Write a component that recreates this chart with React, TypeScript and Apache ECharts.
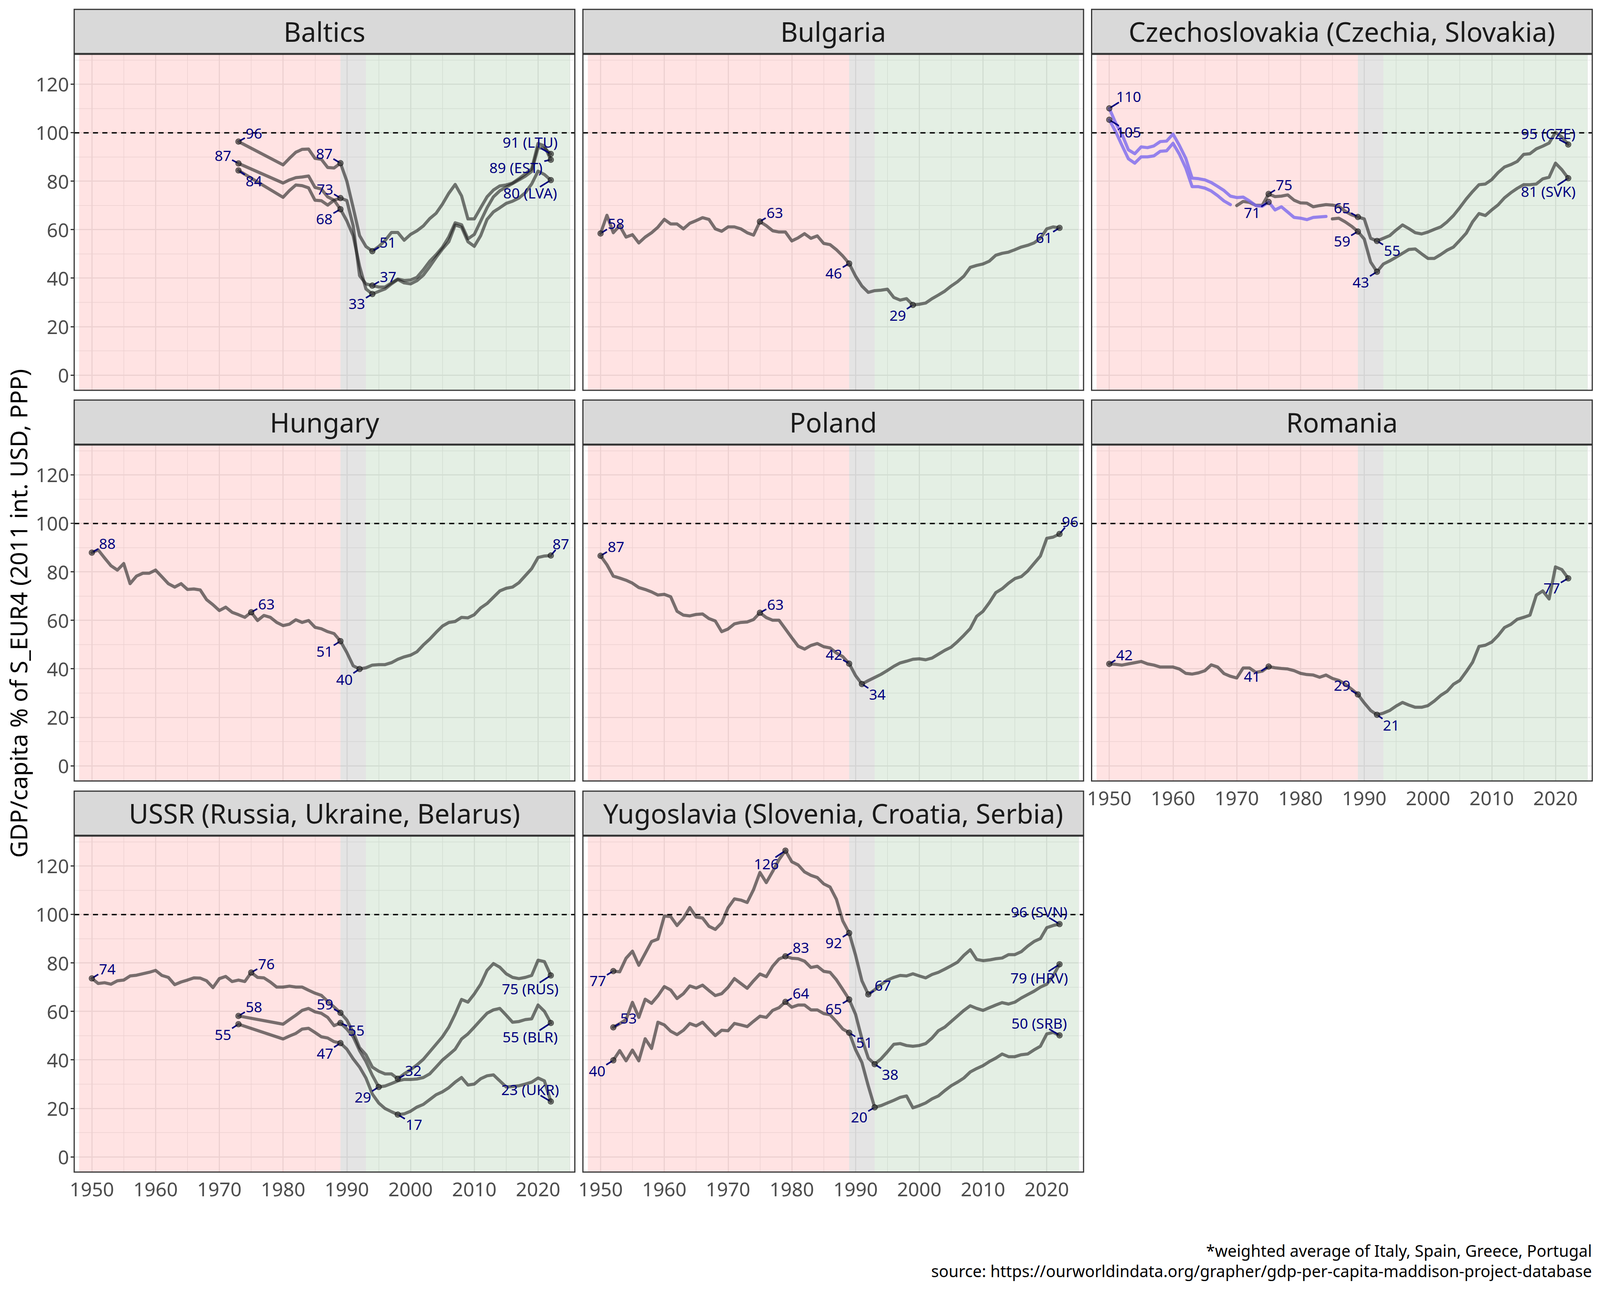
import React, { useEffect, useRef } from 'react';
import * as echarts from 'echarts';

// ----------------------------- DATA -----------------------------
const span = (a: number, b: number): number[] => {
  const r: number[] = [];
  for (let y = a; y <= b; y++) r.push(y);
  return r;
};

const YEARS_FULL = span(1950, 2022);
const YEARS_REP = [1973, ...span(1980, 2022)];
const YEARS_YUGO = span(1952, 2022);
const YEARS_CZE_EARLY = span(1950, 1969);
const YEARS_CZE_LATE = span(1970, 2022);
const YEARS_SVK_EARLY = span(1950, 1984);
const YEARS_SVK_LATE = span(1985, 2022);

const X_TICKS = [1950, 1960, 1970, 1980, 1990, 2000, 2010, 2020];
const Y_TICKS = [0, 20, 40, 60, 80, 100, 120];

const EST = [96.3, 86.7, 89.4, 91.9, 93.1, 93.2, 89.4, 89.0, 85.6, 85.4, 87.4, 80.0, 69.0, 57.5, 53.0, 51.1, 53.0, 55.5, 58.8, 58.8, 55.6, 58.0, 59.5, 61.5, 64.5, 66.7, 70.5, 75.0, 78.6, 73.9, 64.4, 64.4, 69.0, 73.5, 76.3, 78.0, 78.4, 79.2, 81.0, 83.0, 85.0, 95.5, 94.5, 88.8];
const LTU = [87.3, 79.2, 80.5, 81.4, 81.7, 82.1, 77.4, 76.7, 73.5, 72.1, 73.0, 72.0, 61.5, 41.0, 37.6, 36.9, 36.3, 36.3, 38.0, 39.6, 39.0, 39.2, 40.3, 43.4, 46.9, 49.6, 52.7, 57.0, 62.8, 62.0, 56.2, 58.0, 63.5, 69.0, 73.5, 76.0, 77.5, 79.0, 80.5, 82.0, 84.0, 93.8, 93.5, 91.2];
const LVA = [84.4, 73.3, 76.1, 78.4, 78.1, 77.2, 72.1, 71.9, 70.1, 72.1, 68.4, 63.6, 57.4, 44.9, 35.5, 33.4, 34.5, 35.5, 37.6, 39.4, 38.0, 37.6, 38.9, 41.2, 44.7, 48.5, 52.0, 55.0, 61.9, 61.0, 55.0, 53.1, 57.5, 64.2, 67.3, 69.0, 70.8, 71.7, 73.0, 75.2, 78.8, 84.1, 82.7, 80.4];

const BGR = [58.4, 65.9, 58.7, 61.6, 56.9, 57.9, 54.5, 56.9, 58.7, 61.0, 64.2, 62.3, 62.3, 60.3, 62.6, 63.7, 64.9, 64.2, 60.3, 59.3, 61.1, 61.1, 60.3, 58.7, 57.7, 63.3, 61.6, 59.5, 59.0, 59.0, 55.3, 56.6, 58.3, 56.4, 57.4, 54.3, 53.8, 51.7, 49.1, 46.0, 40.8, 36.7, 34.1, 34.8, 35.0, 35.4, 32.0, 30.9, 31.5, 28.9, 29.2, 29.7, 31.5, 33.0, 34.6, 36.7, 38.5, 40.8, 44.4, 45.2, 45.8, 47.0, 49.4, 50.2, 50.7, 51.7, 52.8, 53.5, 54.5, 56.4, 60.3, 61.1, 60.7];

const CZE_EARLY = [105.3, 100.4, 94.7, 89.2, 87.4, 90.0, 90.0, 90.4, 92.3, 92.5, 95.6, 91.1, 85.4, 77.7, 77.7, 77.1, 75.9, 74.0, 71.8, 70.3];
const CZE_LATE = [69.9, 71.6, 71.2, 70.0, 70.0, 74.7, 73.6, 73.8, 74.3, 72.1, 71.0, 70.9, 69.4, 69.9, 70.3, 70.1, 69.6, 67.6, 66.1, 65.2, 64.4, 56.4, 55.3, 56.4, 57.5, 59.8, 61.9, 60.4, 58.7, 58.2, 59.0, 60.1, 61.1, 63.2, 65.8, 69.1, 72.6, 75.7, 78.5, 78.8, 80.6, 83.5, 85.8, 86.8, 88.1, 91.0, 91.3, 93.3, 94.4, 95.7, 100.1, 98.2, 95.1];
const SVK_EARLY = [110.0, 104.0, 99.3, 92.9, 91.3, 94.1, 93.8, 94.5, 96.3, 96.5, 99.4, 94.7, 89.4, 81.2, 81.0, 80.5, 79.4, 77.8, 76.1, 73.8, 73.2, 73.4, 71.8, 69.9, 69.6, 71.4, 68.1, 69.4, 67.2, 65.0, 64.7, 64.1, 65.0, 65.2, 65.4];
const SVK_LATE = [64.4, 64.7, 63.2, 61.4, 59.2, 56.1, 46.6, 42.6, 45.8, 47.1, 48.6, 50.2, 51.8, 52.0, 50.0, 48.1, 48.1, 49.7, 51.5, 52.8, 55.6, 58.5, 63.2, 66.6, 65.8, 68.1, 70.2, 73.1, 75.2, 77.0, 78.5, 78.5, 78.8, 80.9, 81.6, 87.4, 84.7, 81.2];

const HUN = [87.9, 89.0, 85.7, 82.5, 80.7, 83.4, 75.1, 78.2, 79.4, 79.4, 80.7, 77.9, 75.1, 73.7, 75.1, 72.7, 72.9, 72.5, 68.5, 66.4, 64.0, 65.4, 63.3, 62.3, 61.2, 63.3, 59.9, 62.0, 61.2, 59.1, 57.8, 58.4, 60.2, 59.1, 59.9, 57.1, 56.5, 55.3, 54.5, 51.4, 46.7, 41.2, 39.9, 40.4, 41.5, 41.7, 41.7, 42.5, 43.9, 44.9, 45.6, 47.0, 49.8, 52.2, 55.0, 57.6, 59.1, 59.5, 61.2, 61.0, 62.3, 65.1, 66.9, 69.5, 72.1, 73.2, 73.7, 75.5, 78.4, 81.3, 85.9, 86.5, 86.7];
const POL = [86.6, 82.9, 78.2, 77.4, 76.5, 75.3, 73.5, 72.7, 71.7, 70.4, 70.7, 69.7, 63.7, 62.1, 61.8, 62.4, 62.6, 60.7, 59.7, 55.3, 56.4, 58.5, 59.1, 59.3, 60.3, 63.1, 61.1, 60.0, 60.0, 56.4, 52.8, 49.3, 48.1, 49.6, 50.4, 49.1, 48.6, 46.5, 45.0, 42.1, 37.2, 33.7, 35.1, 36.4, 37.7, 39.3, 41.0, 42.4, 43.1, 43.9, 44.1, 43.7, 44.4, 46.0, 47.6, 48.9, 51.2, 53.8, 56.6, 61.6, 63.7, 67.3, 71.4, 73.0, 75.3, 77.2, 78.0, 80.3, 83.4, 86.5, 93.8, 94.3, 95.6];
const ROU = [42.0, 41.8, 41.5, 42.0, 42.5, 43.0, 42.0, 41.5, 40.7, 40.7, 40.7, 39.9, 38.1, 37.8, 38.3, 39.2, 41.6, 40.7, 38.0, 36.9, 36.2, 40.3, 40.3, 38.5, 39.0, 40.9, 40.4, 40.1, 39.9, 39.2, 38.1, 37.6, 37.4, 36.5, 37.4, 36.0, 35.2, 33.7, 31.6, 29.4, 25.9, 22.8, 21.0, 21.7, 22.8, 24.6, 26.1, 25.0, 24.1, 24.1, 24.8, 26.7, 29.0, 30.7, 33.6, 35.2, 38.8, 42.7, 49.2, 49.7, 51.0, 53.7, 57.0, 58.3, 60.4, 61.2, 62.1, 70.4, 72.1, 68.8, 82.0, 80.9, 77.3];

const RUS = [73.6, 71.5, 71.8, 71.2, 72.6, 72.9, 74.6, 74.9, 75.5, 76.1, 76.9, 74.8, 74.0, 71.0, 72.1, 72.9, 73.8, 73.7, 72.6, 69.8, 73.5, 74.4, 72.3, 72.9, 72.3, 76.0, 74.0, 73.8, 72.1, 70.0, 70.0, 70.4, 70.0, 70.0, 68.7, 67.5, 66.6, 64.1, 61.8, 59.4, 56.4, 51.3, 45.0, 42.1, 37.0, 35.3, 34.2, 34.2, 32.2, 34.2, 35.9, 37.9, 40.2, 43.3, 46.4, 49.5, 53.5, 58.9, 64.9, 63.8, 67.2, 71.2, 76.9, 79.7, 78.2, 75.5, 74.0, 73.5, 74.0, 74.8, 81.1, 80.5, 74.8];
const BLR = [58.1, 54.7, 56.6, 58.4, 60.4, 61.2, 59.8, 59.2, 57.5, 54.1, 55.2, 52.7, 49.5, 43.8, 39.3, 33.6, 28.8, 29.2, 30.2, 31.3, 31.9, 31.9, 32.1, 32.7, 34.2, 37.0, 39.9, 42.1, 44.4, 48.6, 50.7, 53.5, 56.4, 59.2, 60.6, 61.2, 58.4, 55.5, 55.8, 56.6, 56.9, 62.6, 60.0, 55.2];
const UKR = [54.7, 48.6, 49.8, 50.9, 52.7, 53.0, 51.3, 49.5, 49.0, 47.5, 46.9, 44.4, 40.4, 37.0, 32.5, 25.9, 22.2, 19.9, 18.6, 17.4, 17.7, 18.8, 20.5, 21.6, 23.6, 25.6, 26.8, 28.5, 30.8, 32.7, 29.6, 30.0, 32.2, 33.4, 33.8, 31.3, 28.8, 29.0, 29.3, 30.0, 30.8, 32.5, 31.3, 22.8];

const SVN = [76.6, 76.3, 81.9, 84.8, 79.0, 83.9, 88.8, 89.8, 99.3, 99.1, 95.4, 98.4, 102.8, 98.9, 98.5, 95.1, 93.8, 96.5, 102.7, 106.4, 105.9, 104.9, 110.2, 117.3, 113.1, 117.7, 122.6, 126.3, 121.7, 120.4, 117.5, 116.1, 115.2, 112.6, 111.3, 106.2, 97.3, 92.3, 83.2, 72.6, 67.0, 68.9, 71.0, 72.9, 74.0, 74.8, 74.6, 75.5, 74.6, 73.8, 75.2, 76.1, 77.4, 78.8, 80.3, 83.1, 85.4, 81.4, 80.9, 81.2, 81.7, 82.0, 83.4, 83.4, 84.6, 86.9, 88.8, 90.0, 94.5, 95.4, 96.0];
const HRV = [53.4, 54.9, 56.6, 63.7, 57.5, 65.0, 63.3, 66.4, 70.2, 68.8, 65.3, 67.3, 70.5, 69.6, 70.8, 68.6, 66.5, 67.3, 69.9, 73.5, 71.5, 69.5, 72.6, 75.4, 74.3, 78.6, 81.6, 82.7, 81.9, 81.7, 80.7, 78.1, 78.6, 76.5, 76.1, 73.0, 69.0, 64.9, 58.8, 48.7, 40.7, 38.2, 40.4, 43.3, 46.4, 46.7, 45.9, 45.6, 45.9, 46.7, 49.0, 52.0, 53.5, 55.8, 58.1, 60.4, 62.3, 61.2, 60.4, 61.5, 62.6, 63.6, 63.0, 63.8, 65.5, 66.9, 68.3, 70.0, 71.2, 74.6, 79.4];
const SRB = [39.8, 43.8, 39.6, 44.0, 39.6, 48.7, 44.7, 55.5, 54.4, 51.8, 50.4, 52.2, 55.0, 54.0, 55.5, 52.7, 50.0, 52.2, 52.0, 55.0, 54.4, 53.7, 55.9, 58.0, 57.5, 60.4, 61.5, 63.9, 61.7, 62.6, 62.6, 60.6, 60.6, 59.1, 58.6, 55.8, 52.7, 51.2, 44.2, 38.9, 29.2, 20.4, 21.1, 22.2, 23.3, 24.5, 25.1, 20.2, 21.1, 22.2, 23.9, 25.1, 27.3, 29.3, 30.8, 32.5, 35.0, 36.4, 37.6, 39.3, 40.7, 42.4, 41.3, 41.3, 42.1, 42.4, 44.1, 45.6, 50.7, 51.3, 50.1];

// labelled points: [series, year, suffix]
const LABELS_BALTICS = [['EST', 1973, ''], ['LTU', 1973, ''], ['LVA', 1973, ''], ['EST', 1989, ''], ['LTU', 1989, ''], ['LVA', 1989, ''], ['EST', 1994, ''], ['LTU', 1994, ''], ['LVA', 1994, ''], ['LTU', 2022, ' (LTU)'], ['EST', 2022, ' (EST)'], ['LVA', 2022, ' (LVA)']];
const LABELS_BULGARIA = [['BGR', 1950, ''], ['BGR', 1975, ''], ['BGR', 1989, ''], ['BGR', 1999, ''], ['BGR', 2022, '']];
const LABELS_CZECHO = [['SVK', 1950, ''], ['CZE', 1950, ''], ['CZE', 1975, ''], ['SVK', 1975, ''], ['CZE', 1989, ''], ['SVK', 1989, ''], ['CZE', 1992, ''], ['SVK', 1992, ''], ['CZE', 2022, ' (CZE)'], ['SVK', 2022, ' (SVK)']];
const LABELS_HUNGARY = [['HUN', 1950, ''], ['HUN', 1975, ''], ['HUN', 1989, ''], ['HUN', 1992, ''], ['HUN', 2022, '']];
const LABELS_POLAND = [['POL', 1950, ''], ['POL', 1975, ''], ['POL', 1989, ''], ['POL', 1991, ''], ['POL', 2022, '']];
const LABELS_ROMANIA = [['ROU', 1950, ''], ['ROU', 1975, ''], ['ROU', 1989, ''], ['ROU', 1992, ''], ['ROU', 2022, '']];
const LABELS_USSR = [['RUS', 1950, ''], ['RUS', 1975, ''], ['BLR', 1973, ''], ['UKR', 1973, ''], ['RUS', 1989, ''], ['BLR', 1989, ''], ['UKR', 1989, ''], ['BLR', 1995, ''], ['RUS', 1998, ''], ['UKR', 1998, ''], ['RUS', 2022, ' (RUS)'], ['BLR', 2022, ' (BLR)'], ['UKR', 2022, ' (UKR)']];
const LABELS_YUGO = [['SVN', 1952, ''], ['HRV', 1952, ''], ['SRB', 1952, ''], ['SVN', 1979, ''], ['HRV', 1979, ''], ['SRB', 1979, ''], ['SVN', 1989, ''], ['HRV', 1989, ''], ['SRB', 1989, ''], ['SVN', 1992, ''], ['HRV', 1993, ''], ['SRB', 1993, ''], ['SVN', 2022, ' (SVN)'], ['HRV', 2022, ' (HRV)'], ['SRB', 2022, ' (SRB)']];

// ----------------------------- LAYOUT -----------------------------
// label centre offsets (reference px) from their point, same order as the labels above
const OFF_BALTICS = [[48, -24], [-48, -23], [48, 29], [-50, -27], [-48, -26], [-50, 26], [48, -26], [49, -26], [-48, 26], [-64, -33], [-108, 21], [-64, 36]];
const OFF_BULGARIA = [[48, -28], [46, -26], [-48, 26], [-47, 28], [-48, 27]];
const OFF_CZECHO = [[60, -34], [60, 34], [48, -26], [-51, 29], [-49, -26], [-49, 26], [47, 26], [-50, 28], [-62, -31], [-62, 37]];
const OFF_HUNGARY = [[48, -26], [47, -24], [-49, 28], [-47, 29], [31, -33]];
const OFF_POLAND = [[48, -26], [48, -24], [-47, -26], [48, 28], [33, -35]];
const OFF_ROMANIA = [[47, -26], [-51, 27], [-49, -26], [44, 28], [-51, 27]];
const OFF_USSR = [[48, -27], [47, -25], [48, -26], [-48, 28], [-48, -25], [49, 20], [-48, 28], [-49, 28], [48, -24], [50, 27], [-64, 37], [-64, 38], [-64, -34]];
const OFF_YUGO = [[-48, 26], [47, -26], [-50, 29], [-59, 36], [48, -26], [48, -25], [-48, 27], [-48, 26], [47, 27], [45, -26], [48, 28], [-48, 26], [-63, -35], [-63, 37], [-63, -35]];

// reference frame (4960 x 3307); mapped onto the real window at run time
const W = 4960;
const H = 3307;
const COL_X = [230, 1807, 3384];
const ROW_Y = [139, 1139, 2140];
const GW = 1552;
const GH = 860;
const STRIP_H = 115;
const X_MIN = 1947.23;
const X_MAX = 2025.77;
const Y_MIN = -6.3;
const Y_MAX = 132.3;
const FONT = '"Noto Sans", "Open Sans", sans-serif';
const LINE_GREY = 'rgba(30,30,30,0.6)';
const LINE_PURPLE = 'rgba(123,104,238,0.8)';

type Seg = { years: number[]; values: number[]; color: string };
type Ser = { key: string; segs: Seg[] };
type Panel = { title: string; series: Ser[]; labels: any[]; offsets: number[][] };

const one = (key: string, years: number[], values: number[]): Ser => ({ key, segs: [{ years, values, color: LINE_GREY }] });

const PANELS: Panel[] = [
  { title: 'Baltics', series: [one('EST', YEARS_REP, EST), one('LTU', YEARS_REP, LTU), one('LVA', YEARS_REP, LVA)], labels: LABELS_BALTICS, offsets: OFF_BALTICS },
  { title: 'Bulgaria', series: [one('BGR', YEARS_FULL, BGR)], labels: LABELS_BULGARIA, offsets: OFF_BULGARIA },
  {
    title: 'Czechoslovakia (Czechia, Slovakia)',
    series: [
      { key: 'CZE', segs: [{ years: YEARS_CZE_EARLY, values: CZE_EARLY, color: LINE_PURPLE }, { years: YEARS_CZE_LATE, values: CZE_LATE, color: LINE_GREY }] },
      { key: 'SVK', segs: [{ years: YEARS_SVK_EARLY, values: SVK_EARLY, color: LINE_PURPLE }, { years: YEARS_SVK_LATE, values: SVK_LATE, color: LINE_GREY }] },
    ],
    labels: LABELS_CZECHO,
    offsets: OFF_CZECHO,
  },
  { title: 'Hungary', series: [one('HUN', YEARS_FULL, HUN)], labels: LABELS_HUNGARY, offsets: OFF_HUNGARY },
  { title: 'Poland', series: [one('POL', YEARS_FULL, POL)], labels: LABELS_POLAND, offsets: OFF_POLAND },
  { title: 'Romania', series: [one('ROU', YEARS_FULL, ROU)], labels: LABELS_ROMANIA, offsets: OFF_ROMANIA },
  { title: 'USSR (Russia, Ukraine, Belarus)', series: [one('RUS', YEARS_FULL, RUS), one('BLR', YEARS_REP, BLR), one('UKR', YEARS_REP, UKR)], labels: LABELS_USSR, offsets: OFF_USSR },
  { title: 'Yugoslavia (Slovenia, Croatia, Serbia)', series: [one('SVN', YEARS_YUGO, SVN), one('HRV', YEARS_YUGO, HRV), one('SRB', YEARS_YUGO, SRB)], labels: LABELS_YUGO, offsets: OFF_YUGO },
];

function lookup(p: Panel, key: string, year: number): number {
  const s = p.series.find((x) => x.key === key)!;
  for (const seg of s.segs) {
    const i = seg.years.indexOf(year);
    if (i >= 0) return seg.values[i];
  }
  return NaN;
}

function textW(s: string, fs: number): number {
  let w = 0;
  for (const ch of s) {
    if (ch >= '0' && ch <= '9') w += 0.572;
    else if (ch === ' ') w += 0.26;
    else if (ch === '(' || ch === ')') w += 0.3;
    else w += 0.64;
  }
  return w * fs;
}

function buildOption(kx: number, ky: number) {
  const fs = Math.min(kx, ky);
  const labelFs = 45 * fs;
  const tickFs = 58 * Math.min(1, fs * 1.04);
  const stripFs = 80 * Math.min(1, fs * 1.04);
  const titleFs = 70 * Math.min(1, ky * 0.86);
  const dyK = ky * (0.5 + 0.5 * fs);
  const grid: any[] = [];
  const xAxis: any[] = [];
  const yAxis: any[] = [];
  const series: any[] = [];
  const graphic: any[] = [];

  PANELS.forEach((p, i) => {
    const col = i % 3;
    const row = Math.floor(i / 3);
    const left = COL_X[col] * kx;
    const top = ROW_Y[row] * ky;
    const gw = GW * kx;
    const gh = GH * ky;
    const stripH = STRIP_H * ky;
    const showX = row === 2 || (row === 1 && col === 2);
    const showY = col === 0;
    grid.push({ left, top, width: gw, height: gh, show: false, containLabel: false });
    xAxis.push({
      type: 'value', gridIndex: i, min: X_MIN, max: X_MAX,
      axisLine: { show: false }, splitLine: { show: false },
      axisTick: { show: showX, length: 11 * ky, lineStyle: { color: '#333333', width: 3 }, customValues: X_TICKS },
      axisLabel: { show: showX, customValues: X_TICKS, fontSize: tickFs, color: '#4D4D4D', fontFamily: FONT, margin: 18 * ky, formatter: (v: number) => String(v) },
    });
    yAxis.push({
      type: 'value', gridIndex: i, min: Y_MIN, max: Y_MAX,
      axisLine: { show: false }, splitLine: { show: false },
      axisTick: { show: showY, length: 11 * kx, lineStyle: { color: '#333333', width: 3 }, customValues: Y_TICKS },
      axisLabel: { show: showY, customValues: Y_TICKS, fontSize: tickFs, color: '#4D4D4D', fontFamily: FONT, margin: 16 * kx, formatter: (v: number) => String(v) },
    });

    const gridLines: any[] = [];
    for (let x = 1950; x <= 2025; x += 5) gridLines.push({ xAxis: x, lineStyle: { width: x % 10 === 0 ? 3 : 1.5 } });
    for (let y = 0; y <= 130; y += 10) gridLines.push({ yAxis: y, lineStyle: { width: y % 20 === 0 ? 3 : 1.5 } });
    const dummy = { type: 'line', xAxisIndex: i, yAxisIndex: i, data: [[X_MIN, Y_MIN]], showSymbol: false, silent: true, lineStyle: { opacity: 0 } };
    series.push({
      ...dummy,
      markLine: { silent: true, z: 1, symbol: ['none', 'none'], label: { show: false }, lineStyle: { color: '#EBEBEB', type: 'solid' }, data: gridLines },
    });
    series.push({
      ...dummy,
      markArea: {
        silent: true, z: 2, label: { show: false },
        data: [
          [{ xAxis: 1948, itemStyle: { color: 'rgba(255,0,0,0.11)' } }, { xAxis: 1989 }],
          [{ xAxis: 1989, itemStyle: { color: 'rgba(128,128,128,0.21)' } }, { xAxis: 1993 }],
          [{ xAxis: 1993, itemStyle: { color: 'rgba(0,100,0,0.105)' } }, { xAxis: 2025 }],
        ],
      },
    });
    p.series.forEach((s) => {
      s.segs.forEach((seg) => {
        series.push({
          type: 'line', xAxisIndex: i, yAxisIndex: i, z: 3, silent: true, showSymbol: false,
          data: seg.years.map((y, k) => [y, seg.values[k]]),
          lineStyle: { color: seg.color, width: 8, cap: 'round', join: 'round' },
        });
      });
    });
    series.push({
      ...dummy,
      markLine: { silent: true, z: 4, symbol: ['none', 'none'], label: { show: false }, lineStyle: { color: '#000000', width: 3.5, type: [13, 11] }, data: [{ yAxis: 100 }] },
    });

    const items = p.labels.map((l: any, k: number) => {
      const v = lookup(p, l[0], l[1]);
      return { year: l[1], value: v, text: `${Math.round(v)}${l[2]}`, dx: p.offsets[k][0] * kx, dy: p.offsets[k][1] * dyK };
    });
    series.push({
      type: 'custom', xAxisIndex: i, yAxisIndex: i, z: 5, silent: true, clip: false,
      data: items.map((it) => [it.year, it.value]),
      renderItem: (params: any, api: any) => {
        const it = items[params.dataIndex];
        const pt = api.coord([it.year, it.value]);
        const cx = pt[0] + it.dx;
        const cy = pt[1] + it.dy;
        const hw = textW(it.text, labelFs) / 2 + 2;
        const hh = labelFs * 0.42;
        const vx = pt[0] - cx;
        const vy = pt[1] - cy;
        const s = Math.min(hw / Math.max(Math.abs(vx), 1e-6), hh / Math.max(Math.abs(vy), 1e-6));
        const ex = cx + vx * s;
        const ey = cy + vy * s;
        const len = Math.hypot(ex - pt[0], ey - pt[1]);
        const children: any[] = [];
        if (s < 1 && len > 7) {
          const r0 = 3;
          children.push({
            type: 'line',
            shape: { x1: pt[0] + ((ex - pt[0]) / len) * r0, y1: pt[1] + ((ey - pt[1]) / len) * r0, x2: ex, y2: ey },
            style: { stroke: '#000080', lineWidth: 4 },
          });
        }
        children.push({ type: 'circle', shape: { cx: pt[0], cy: pt[1], r: 7 }, style: { fill: 'rgba(40,40,40,0.55)', stroke: 'rgba(0,0,0,0.55)', lineWidth: 2 } });
        children.push({
          type: 'text',
          style: { text: it.text, x: cx, y: cy, fill: '#000080', fontSize: labelFs, fontFamily: FONT, textAlign: 'center', textVerticalAlign: 'middle', align: 'center', verticalAlign: 'middle' },
        });
        return { type: 'group', children };
      },
    });

    // strip + panel border
    graphic.push({ type: 'rect', z: 6, shape: { x: left, y: top - stripH, width: gw, height: stripH - 2 }, style: { fill: '#D9D9D9', stroke: '#333333', lineWidth: 3 } });
    graphic.push({
      type: 'text', z: 7, x: left + gw / 2, y: top - stripH / 2 - 1,
      style: { text: p.title, fill: '#1A1A1A', font: `${stripFs}px ${FONT}`, textAlign: 'center', textVerticalAlign: 'middle', align: 'center', verticalAlign: 'middle' },
    });
    graphic.push({ type: 'rect', z: 6, shape: { x: left, y: top, width: gw, height: gh }, style: { fill: 'none', stroke: '#333333', lineWidth: 3 } });
  });

  graphic.push({
    type: 'text', z: 7, x: Math.max(46 * kx, titleFs * 0.78), y: 1570 * ky, rotation: Math.PI / 2,
    style: { text: 'GDP/capita % of S_EUR4 (2011 int. USD, PPP)', fill: '#000000', font: `${titleFs}px ${FONT}`, textAlign: 'center', textVerticalAlign: 'middle', align: 'center', verticalAlign: 'middle' },
  });
  graphic.push({
    type: 'text', z: 7, x: 4935 * kx, y: 3201 * ky,
    style: { text: '*weighted average of Italy, Spain, Greece, Portugal', fill: '#000000', font: `${50 * fs}px ${FONT}`, textAlign: 'right', textVerticalAlign: 'middle', align: 'right', verticalAlign: 'middle' },
  });
  graphic.push({
    type: 'text', z: 7, x: 4935 * kx, y: 3253 * ky,
    style: { text: 'source: https://ourworldindata.org/grapher/gdp-per-capita-maddison-project-database', fill: '#000000', font: `${50 * fs}px ${FONT}`, textAlign: 'right', textVerticalAlign: 'middle', align: 'right', verticalAlign: 'middle' },
  });

  return { animation: false, backgroundColor: '#FFFFFF', grid, xAxis, yAxis, series, graphic };
}

export default function App() {
  const ref = useRef<HTMLDivElement>(null);
  const vw = typeof window !== 'undefined' && window.innerWidth > 0 ? window.innerWidth : W;
  const vh = typeof window !== 'undefined' && window.innerHeight > 0 ? window.innerHeight : H;
  useEffect(() => {
    document.body.style.margin = '0';
    document.body.style.overflow = 'hidden';
    if (!ref.current) return;
    const chart = echarts.init(ref.current, undefined, { renderer: 'svg', width: vw, height: vh });
    chart.setOption(buildOption(vw / W, vh / H) as any);
    return () => chart.dispose();
  }, []);
  return <div ref={ref} style={{ width: vw, height: vh }} />;
}
